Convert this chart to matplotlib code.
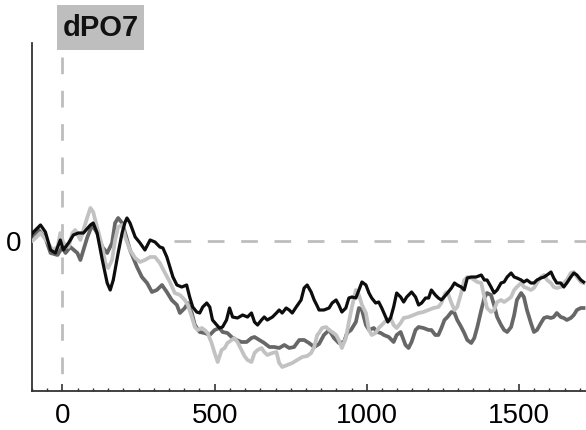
import matplotlib
matplotlib.use("Agg")
import matplotlib.pyplot as plt
from matplotlib.patches import Rectangle
from matplotlib.ticker import MultipleLocator

plt.rcParams['font.family'] = ['Liberation Sans', 'DejaVu Sans']

title = "dPO7"

# black trace
t_black = [-100, -95, -72, -56, -39, -23, -7, 3, 20, 36, 52, 69, 92, 101, 114, 131, 147, 157, 167, 183,
           196, 206, 212, 222, 239, 255, 271, 288, 304, 320, 330, 343, 353, 363, 376, 392, 408, 418, 428,
           441, 451, 461, 474, 484, 493, 507, 516, 526, 539, 549, 559, 575, 592, 608, 621, 631, 641, 654,
           663, 673, 690, 703, 712, 722, 735, 745, 755, 768, 784, 794, 804, 817, 827, 837, 843, 859, 876,
           886, 899, 908, 918, 931, 941, 951, 964, 974, 984, 997, 1007, 1016, 1029, 1039, 1049, 1062,
           1069, 1078, 1088, 1098, 1111, 1121, 1131, 1147, 1160, 1170, 1180, 1193, 1203, 1212, 1225,
           1235, 1245, 1265, 1278, 1288, 1297, 1310, 1320, 1330, 1343, 1359, 1376, 1386, 1395, 1408,
           1418, 1428, 1441, 1451, 1461, 1474, 1484, 1493, 1507, 1516, 1526, 1539, 1549, 1559, 1572,
           1582, 1592, 1605, 1614, 1624, 1637, 1647, 1657, 1670, 1680, 1690, 1703, 1712]
v_black = [0.7, 0.9, 1.6, 0.9, -0.9, -1.2, 0.1, -0.9, -0.2, 0.6, 0.8, 0.8, 1.6, 1.8, 0.8, -1.9, -4.2,
           -4.9, -3.9, -1.2, 0.8, 1.9, 2.3, 1.8, 0.4, -0.2, -0.9, 0.1, -0.1, -0.6, -0.7, -1.6, -2.6, -3.6,
           -4.4, -4.6, -4.4, -5.6, -6.6, -7.1, -7.2, -6.6, -6.2, -6.6, -7.9, -8.4, -8.7, -8.6, -7.9, -6.7,
           -7.6, -7.7, -7.4, -7.6, -7.2, -8.1, -8.4, -7.9, -7.6, -7.9, -7.6, -7.2, -6.9, -7.2, -6.7, -6.9,
           -7.2, -6.6, -5.9, -4.7, -4.4, -5.1, -5.9, -6.5, -6.9, -6.9, -6.7, -6.2, -5.9, -6.4, -7.1, -6.7,
           -5.7, -5.6, -5.7, -4.9, -4.1, -4.4, -5.2, -5.7, -6.2, -6.1, -6.7, -7.6, -8.1, -7.7, -6.6, -5.2,
           -5.6, -6.1, -5.6, -5.1, -5.6, -6.4, -6.2, -5.7, -5.7, -4.9, -5.4, -5.7, -5.9, -5.2, -4.7, -4.2,
           -4.4, -4.6, -4.9, -3.7, -3.6, -3.6, -3.4, -3.9, -3.9, -4.6, -5.2, -4.9, -4.2, -4.1, -3.6, -3.2,
           -3.6, -3.7, -3.9, -4.1, -3.9, -4.2, -4.2, -3.9, -3.7, -3.6, -3.4, -3.1, -3.7, -4.2, -4.2, -4.6,
           -4.2, -3.6, -3.2, -3.4, -3.9, -4.1]

# dark gray trace
t_dark = [-100, -95, -78, -56, -39, -16, 0, 10, 26, 49, 59, 69, 82, 98, 114, 131, 147, 163, 173, 183, 196,
          206, 222, 245, 261, 278, 294, 310, 327, 343, 359, 376, 386, 402, 412, 425, 435, 451, 467, 484,
          500, 516, 526, 542, 559, 572, 588, 605, 621, 631, 647, 663, 680, 696, 712, 729, 745, 761, 778,
          794, 810, 827, 843, 859, 876, 892, 908, 925, 935, 948, 964, 974, 984, 997, 1007, 1023, 1033,
          1046, 1056, 1072, 1088, 1098, 1111, 1127, 1137, 1147, 1160, 1170, 1186, 1203, 1212, 1225, 1235,
          1245, 1255, 1265, 1278, 1288, 1297, 1310, 1320, 1330, 1343, 1353, 1363, 1376, 1386, 1395, 1408,
          1418, 1428, 1441, 1451, 1461, 1474, 1484, 1493, 1507, 1516, 1526, 1539, 1549, 1559, 1572, 1582,
          1592, 1605, 1614, 1624, 1637, 1647, 1657, 1670, 1680, 1690, 1703, 1712]
v_dark = [0.2, 0.4, 1.1, 0.3, -1.2, -1.4, -0.6, -1.2, -0.6, -1.2, -1.9, -0.9, 0.4, 1.6, 0.8, -0.6, -1.2,
          -0.2, 1.8, 2.3, 1.8, 0.8, -0.9, -2.6, -3.6, -4.2, -5.1, -4.9, -4.4, -5.1, -5.9, -6.4, -7.2, -6.7,
          -6.2, -7.2, -8.4, -9.1, -9.2, -9.4, -8.9, -8.7, -9.1, -9.2, -9.7, -9.9, -10.1, -10.1, -9.7, -9.6,
          -9.9, -10.2, -10.6, -10.6, -10.7, -10.4, -10.7, -10.6, -9.9, -9.9, -10.2, -10.6, -10.3, -9.4,
          -8.9, -9.7, -10.2, -10.1, -9.2, -8.9, -8.1, -6.7, -6.9, -8.4, -8.9, -8.7, -9.1, -9.2, -9.4, -9.6,
          -10.1, -9.4, -9.1, -10.4, -10.7, -10.1, -8.9, -8.6, -8.7, -8.9, -8.9, -9.4, -9.4, -8.7, -7.9,
          -7.6, -7.1, -7.2, -7.9, -8.6, -9.2, -9.9, -10.2, -9.7, -8.6, -6.9, -5.7, -5.2, -5.4, -6.4, -7.6,
          -8.4, -8.9, -9.1, -8.6, -7.4, -5.9, -5.2, -5.6, -6.9, -8.2, -9.1, -8.9, -8.2, -7.7, -7.6, -7.7,
          -7.6, -7.2, -7.6, -7.7, -7.9, -7.7, -7.4, -6.9, -6.7, -6.7]

# light gray trace
t_light = [-100, -95, -72, -49, -33, -16, -7, 3, 20, 33, 42, 59, 69, 82, 92, 101, 114, 131, 141, 150, 163,
           173, 183, 196, 206, 222, 239, 255, 271, 288, 304, 320, 337, 353, 369, 386, 402, 412, 425, 435,
           444, 458, 467, 477, 490, 500, 510, 523, 533, 542, 556, 565, 575, 588, 598, 608, 621, 631, 641,
           654, 663, 673, 690, 703, 712, 722, 739, 755, 771, 788, 804, 817, 827, 837, 843, 853, 866, 876,
           886, 899, 908, 918, 931, 941, 951, 964, 974, 984, 997, 1007, 1016, 1029, 1039, 1049, 1065,
           1078, 1088, 1098, 1111, 1121, 1137, 1154, 1170, 1186, 1203, 1219, 1235, 1245, 1258, 1265,
           1278, 1288, 1297, 1310, 1320, 1330, 1343, 1353, 1363, 1376, 1386, 1395, 1408, 1418, 1428,
           1441, 1451, 1461, 1474, 1484, 1493, 1507, 1516, 1526, 1539, 1549, 1559, 1572, 1582, 1592,
           1605, 1614, 1624, 1637, 1647, 1657, 1670, 1680, 1690, 1703, 1712]
v_light = [0.0, 0.1, 0.8, -0.1, -0.9, -0.6, 0.8, -0.2, -0.6, 0.8, 1.1, 0.1, 1.1, 2.4, 3.3, 2.9, 1.4, -0.6,
           -2.2, -2.7, -1.9, 0.1, 1.4, 1.6, 0.4, -0.9, -1.7, -2.1, -1.9, -1.6, -1.6, -2.2, -3.2, -4.1, -5.2,
           -5.4, -5.9, -6.4, -7.6, -8.6, -8.9, -8.7, -8.9, -9.2, -10.2, -11.2, -12.1, -10.9, -10.7, -10.2,
           -9.9, -9.7, -10.1, -10.9, -11.5, -11.9, -12.1, -11.2, -10.9, -10.7, -11.1, -11.4, -11.2, -11.1,
           -12.2, -12.6, -12.4, -12.2, -11.9, -11.6, -11.5, -11.2, -10.6, -9.4, -9.2, -8.7, -8.6, -8.9,
           -9.1, -9.4, -9.9, -10.7, -9.7, -8.1, -6.6, -4.9, -5.4, -6.4, -7.2, -8.9, -9.4, -9.2, -8.7, -8.4,
           -7.9, -7.7, -8.4, -8.7, -8.2, -7.7, -7.6, -7.4, -7.2, -7.1, -6.9, -6.7, -6.6, -6.2, -5.2, -5.1,
           -6.2, -6.9, -6.6, -5.2, -3.9, -3.6, -3.7, -3.9, -4.1, -4.2, -5.6, -6.7, -7.1, -6.9, -6.1, -5.9,
           -6.1, -5.9, -5.6, -4.9, -4.6, -4.2, -4.6, -4.7, -4.9, -4.7, -4.2, -3.6, -3.4, -3.9, -4.2, -4.6,
           -4.7, -4.6, -4.2, -3.9, -3.2, -3.1, -3.6, -4.1, -4.2]

xticks = [0, 500, 1000, 1500]
xticklabels = ["0", "500", "1000", "1500"]

fig = plt.figure(figsize=(5.86, 4.30), dpi=100)
ax = fig.add_axes([0.0546, 0.0907, 0.9454, 0.8093])
ax.set_xlim(-100, 1720)
ax.set_ylim(-15.0, 19.8)

# reference lines
ax.plot([365, 1720], [0, 0], color='#bdbdbd', lw=2.0, dashes=(6, 6), zorder=1, clip_on=False)
ax.plot([0, 0], [18.4, -15.0], color='#bdbdbd', lw=2.0, dashes=(6, 6), zorder=1)

ax.plot(t_dark, v_dark, color='#676767', lw=2.7, zorder=2)
ax.plot(t_light, v_light, color='#c2c2c2', lw=2.7, zorder=3)
ax.plot(t_black, v_black, color='#0d0d0d', lw=2.3, zorder=4)

for s in ['top', 'right']:
    ax.spines[s].set_visible(False)
for s in ['left', 'bottom']:
    ax.spines[s].set_color('#333333')
    ax.spines[s].set_linewidth(1.3)

ax.set_xticks(xticks)
ax.set_xticklabels(xticklabels)
ax.xaxis.set_minor_locator(MultipleLocator(50))
ax.tick_params(axis='x', which='major', direction='in', length=5, width=1.2, color='#333333',
               labelsize=20, pad=9)
ax.tick_params(axis='x', which='minor', direction='in', length=2.5, width=1.0, color='#333333')
ax.set_yticks([0])
ax.set_yticklabels(["0"])
ax.tick_params(axis='y', which='both', length=0, labelsize=20, pad=8)

# title box
fig.patches.append(Rectangle((57 / 586, 1 - 50 / 430), 87 / 586, 45 / 430,
                             transform=fig.transFigure, facecolor='#bebebe', edgecolor='none'))
fig.text(100.5 / 586, 1 - 28 / 430, title, ha='center', va='center', fontsize=21,
         fontweight='bold', color='#111111')

fig.savefig("out.png", dpi=100)
